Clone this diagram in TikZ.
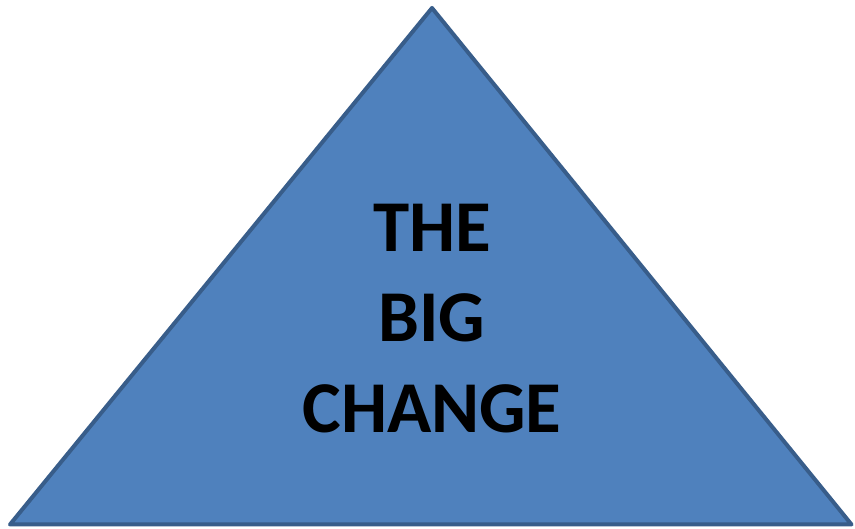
\documentclass[tikz,border=0pt]{standalone}
\usepackage{fontspec}
\setmainfont{Carlito}
\definecolor{triFill}{HTML}{4F81BD}
\definecolor{triLine}{HTML}{385D8A}
\begin{document}
\begin{tikzpicture}[x=1pt,y=1pt,
  tri/.style={fill=triFill,draw=triLine,line width=4pt,line join=round},
  bigtext/.style={font=\fontsize{73}{89}\selectfont\bfseries,text=black,inner sep=0pt,anchor=base}]
\useasboundingbox (0,0) rectangle (855,529);
\coordinate (apex) at (432,521);
\coordinate (bl) at (10,4.5);
\coordinate (br) at (851.5,4.5);
\draw[tri] (apex) -- (br) -- (bl) -- cycle;
\node[bigtext] (the) at (432,277) {THE};
\node[bigtext] (big) at (432,187) {BIG};
\node[bigtext] (change) at (432,96) {CHANGE};
\end{tikzpicture}
\end{document}
